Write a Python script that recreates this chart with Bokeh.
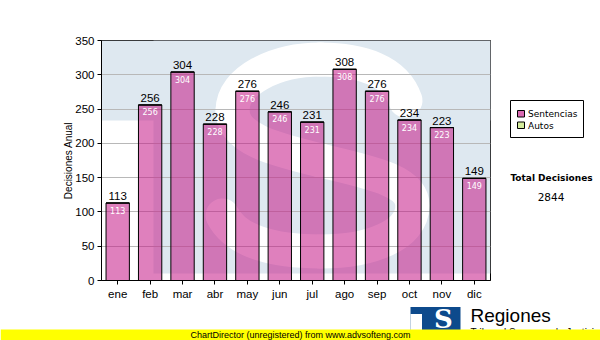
from bokeh.plotting import figure
from bokeh.layouts import column, row
from bokeh.models import FactorRange, Range1d, FixedTicker
from bokeh.core.properties import value
from bokeh.embed import file_html
from bokeh.resources import INLINE

# ---- data ----
months = ["ene", "feb", "mar", "abr", "may", "jun", "jul", "ago", "sep", "oct", "nov", "dic"]
sentencias = [113, 256, 304, 228, 276, 246, 231, 308, 276, 234, 223, 149]
autos = [0, 0, 0, 0, 0, 0, 0, 0, 0, 0, 0, 0]
series_names = ["Sentencias", "Autos"]
series_colors = ["#c51887", "#d4ec9c"]
y_ticks = [0, 50, 100, 150, 200, 250, 300, 350]
total_title = "Total Decisiones"
total_value = "2844"
y_label = "Decisiones Anual"
footer = "ChartDirector (unregistered) from www.advsofteng.com"
brand = "Regiones"
brand_sub = "Tribunal Supremo de Justicia"

# ---- layout constants (canvas pixels) ----
W, H = 600, 340
FL, FR, FT, FB = 101, 490, 40, 280
MAIN_W, MAIN_H = FR + 1, 302

main = figure(width=MAIN_W, height=MAIN_H, x_range=FactorRange(*months, range_padding=0),
              y_range=Range1d(0, 350), output_backend="svg", toolbar_location=None,
              min_border_left=FL, min_border_right=MAIN_W - FR, min_border_top=FT,
              min_border_bottom=MAIN_H - FB, background_fill_color="white",
              border_fill_color="white")
main.outline_line_color = "black"
main.outline_line_width = 1

n = len(months)
def dx(px):
    return (px - FL) / (FR - FL) * n
def dy(py):
    return (FB - py) / (FB - FT) * 350

# ---- watermark (light logo behind chart) ----
wm = "#dee8f0"
main.quad(left=[dx(FL), dx(153)], right=[dx(FR), dx(FR)], bottom=[dy(120), dy(273)],
          top=[dy(FT), dy(FT)], fill_color=wm, line_color=None, level="image")
segs = [
    ((405, 100), (395, 70), (360, 59), (320, 59)),
    ((320, 59), (275, 59), (232, 80), (232, 110)),
    ((232, 110), (232, 140), (280, 150), (320, 160)),
    ((320, 160), (370, 172), (412, 180), (412, 205)),
    ((412, 205), (412, 235), (370, 251), (320, 251)),
    ((320, 251), (270, 251), (235, 240), (222, 215)),
]
main.bezier(x0=[dx(s[0][0]) for s in segs], y0=[dy(s[0][1]) for s in segs],
            cx0=[dx(s[1][0]) for s in segs], cy0=[dy(s[1][1]) for s in segs],
            cx1=[dx(s[2][0]) for s in segs], cy1=[dy(s[2][1]) for s in segs],
            x1=[dx(s[3][0]) for s in segs], y1=[dy(s[3][1]) for s in segs],
            line_color="white", line_width=34, line_cap="round", level="image")

# ---- bars ----
src = dict(months=months, Sentencias=sentencias, Autos=autos)
main.vbar_stack(series_names, x="months", width=0.72, source=src,
                fill_color=series_colors, fill_alpha=[0.55, 1.0],
                line_color="black", line_width=1)

main.text(x=months, y=sentencias, text=[str(v) for v in sentencias],
          text_font=value("Liberation Sans"), text_font_size="11.5px",
          text_color="black", text_align="center", text_baseline="bottom",
          y_offset=-3)
main.text(x=months, y=sentencias, text=[str(v) for v in sentencias],
          text_font=value("DejaVu Sans"), text_font_size="8px",
          text_color="white", text_align="center", text_baseline="middle",
          y_offset=7)

# ---- axes ----
main.yaxis.ticker = FixedTicker(ticks=y_ticks)
main.yaxis.axis_label = y_label
main.yaxis.axis_label_text_font = "Liberation Sans"
main.yaxis.axis_label_text_font_size = "10px"
main.yaxis.axis_label_text_font_style = "normal"
main.yaxis.axis_label_text_color = "black"
main.yaxis.axis_label_standoff = -2
for ax in (main.xaxis, main.yaxis):
    ax.major_label_text_font = "Liberation Sans"
    ax.major_label_text_font_size = "11.5px"
    ax.major_label_text_color = "black"
    ax.axis_line_color = "black"
    ax.major_tick_line_color = "black"
    ax.major_tick_out = 4
    ax.major_tick_in = 0
    ax.minor_tick_line_color = None
    ax.major_label_standoff = 3
main.xgrid.grid_line_color = None
main.ygrid.grid_line_color = "#b8b8b8"

def blank(width, height, xr, yr):
    f = figure(width=width, height=height, x_range=xr, y_range=yr, title=None,
               x_axis_location=None, y_axis_location=None, output_backend="svg",
               toolbar_location=None, min_border=0, border_fill_color="white",
               background_fill_color="white")
    f.grid.visible = False
    f.outline_line_color = None
    return f

# ---- side panel: legend and total (its frame is aligned with the chart frame) ----
side = blank(W - MAIN_W, MAIN_H, Range1d(MAIN_W, W), Range1d(FB, FT))
side.quad(left=[510], right=[583], top=[100], bottom=[137],
          fill_color="white", line_color="black", line_width=1)
side.quad(left=[517, 517], right=[524, 524], top=[110, 121.5], bottom=[116.5, 128],
          fill_color=series_colors, fill_alpha=[0.65, 1.0], line_color="black", line_width=1)
side.text(x=[527.5, 527.5], y=[113.5, 125], text=series_names,
          text_font=value("DejaVu Sans"), text_font_size="9px", text_color="black",
          text_align="left", text_baseline="middle")
side.text(x=[551], y=[177.5], text=[total_title], text_font=value("DejaVu Sans"),
          text_font_style="bold", text_font_size="9px", text_color="black",
          text_align="center", text_baseline="middle")
side.text(x=[550.5], y=[196], text=[total_value], text_font=value("DejaVu Sans"),
          text_font_size="10.5px", text_color="black",
          text_align="center", text_baseline="middle")

# ---- bottom strip: logo and footer ----
BOT_H = H - MAIN_H
bottom = blank(W, BOT_H, Range1d(0, W), Range1d(H, MAIN_H))
bottom.quad(left=[410], right=[460], top=[306.5], bottom=[340], fill_color="#0d4a8c", line_color=None)
bottom.quad(left=[410], right=[421.5], top=[313.5], bottom=[340], fill_color="white", line_color=None)
bottom.text(x=[443], y=[318], text=["S"], text_font=value("DejaVu Serif"), text_font_style="bold",
            text_font_size="26px", text_color="white", text_align="center", text_baseline="middle")
bottom.text(x=[470], y=[315], text=[brand], text_font=value("Liberation Sans"),
            text_font_size="19px", text_color="black", text_align="left",
            text_baseline="middle")
bottom.text(x=[470], y=[332], text=[brand_sub], text_font=value("Liberation Sans"),
            text_font_size="10px", text_color="black", text_align="left",
            text_baseline="middle")
bottom.quad(left=[0], right=[W], top=[329], bottom=[H], fill_color="#ffff00", line_color=None)
bottom.text(x=[300], y=[334.8], text=[footer], text_font=value("Liberation Sans"),
            text_font_size="9px", text_color="black", text_align="center",
            text_baseline="middle")

layout = column(row(main, side, spacing=0), bottom, spacing=0)
open("out.html", "w").write(file_html(layout, INLINE))
